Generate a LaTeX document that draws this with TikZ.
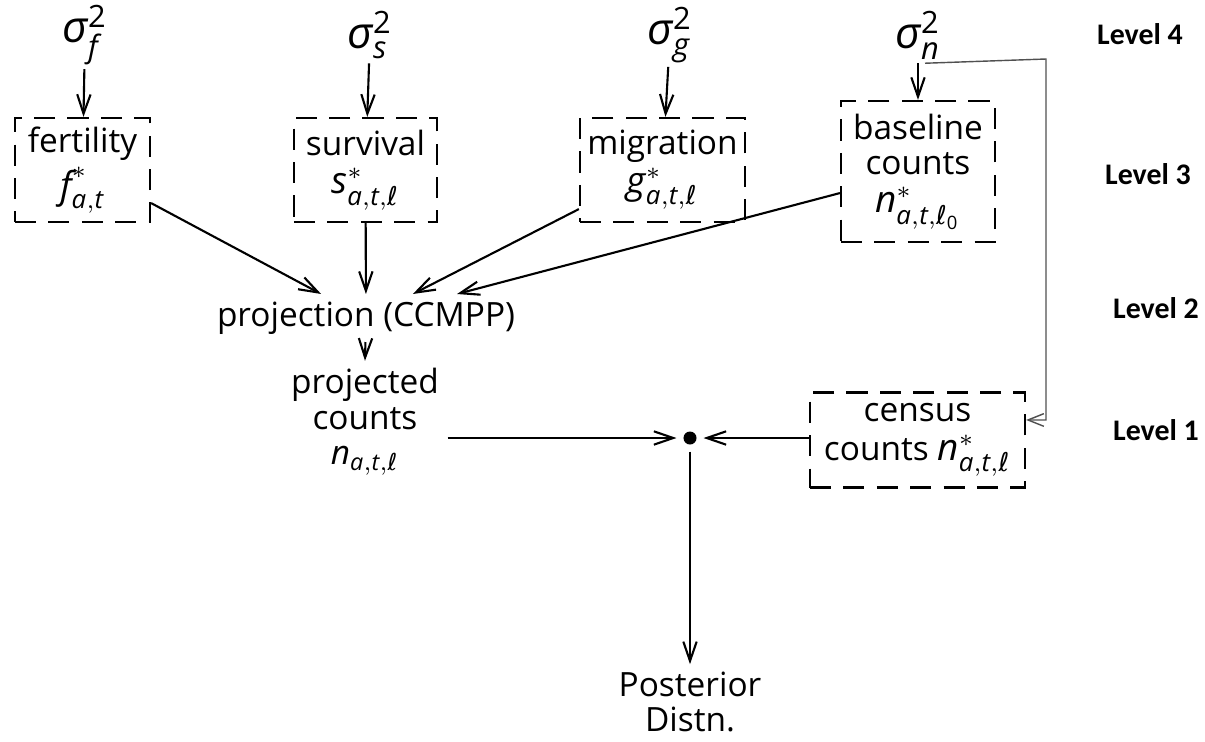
\documentclass[tikz,border=0pt]{standalone}
\usepackage{amsmath}
\usepackage{fontspec}
\setmainfont{Open Sans}
\newfontfamily\levelfont{Carlito}
\newfontfamily\ellfont{DejaVu Sans}
\usetikzlibrary{arrows.meta}

\definecolor{rblack}{HTML}{000000}
\definecolor{rgrey}{HTML}{505050}

\newcommand{\el}{\text{\ellfont\itshape ℓ}}
\newcommand{\vi}[1]{\textit{#1}}
\newcommand{\mathline}[1]{{\fontsize{10.5}{11}\selectfont$#1$}}

\begin{document}
\begin{tikzpicture}[x=0.01cm,y=-0.01cm,
  font=\fontsize{9.5}{10}\selectfont,
  box/.style={draw=rblack,dash pattern=on 6pt off 3.5pt,line width=0.6pt,align=center,inner sep=0pt},
  txt/.style={align=center,inner sep=2pt},
  sig/.style={inner sep=1pt,font=\fontsize{12.5}{13}\selectfont},
  arr/.style={-{Straight Barb[length=5.5pt,width=3.8pt]},line width=0.6pt,rblack},
  thinarr/.style={-{Straight Barb[length=4.5pt,width=3.6pt]},line width=0.4pt,rgrey},
  lvl/.style={font=\levelfont\bfseries\fontsize{8.5}{10}\selectfont}]
  \useasboundingbox (0,0) rectangle (1205,742);

  \node[sig] (sigf) at (85,35) {$\vi{σ}^{\text{2}}_{\vi{f}}$};
  \node[sig] (sigs) at (370,35) {$\vi{σ}^{\text{2}}_{\vi{s}}$};
  \node[sig] (sigg) at (670,35) {$\vi{σ}^{\text{2}}_{\vi{g}}$};
  \node[sig] (sign) at (918,35) {$\vi{σ}^{\text{2}}_{\vi{n}}$};

  \node[box,minimum width=1.35cm,minimum height=1.04cm] (fert) at (82.5,170)
    {fertility\\[1pt]\mathline{\vi{f}^{\ast}_{\vi{a},\vi{t}}}};
  \node[box,minimum width=1.43cm,minimum height=1.04cm] (surv) at (365.5,170)
    {survival\\[1pt]\mathline{\vi{s}^{\ast}_{\vi{a},\vi{t},\el}}};
  \node[box,minimum width=1.65cm,minimum height=1.04cm] (migr) at (662.5,170)
    {migration\\[1pt]\mathline{\vi{g}^{\ast}_{\vi{a},\vi{t},\el}}};
  \node[box,minimum width=1.54cm,minimum height=1.41cm] (base) at (918,171.5)
    {baseline\\counts\\[1pt]\mathline{\vi{n}^{\ast}_{\vi{a},\vi{t},\el_{\text{0}}}}};

  \node[txt] (proj) at (366,318) {projection (CCMPP)};
  \node[txt,inner sep=0pt] (projcnt) at (365,422) {projected\\counts\\$\vi{n}_{\vi{a},\vi{t},\el}$};
  \node[circle,fill=rblack,inner sep=0pt,minimum size=0.13cm,outer sep=2pt] (dot) at (690,438) {};
  \node[box,minimum width=2.15cm,minimum height=0.95cm] (cens) at (917.5,440)
    {census\\[1pt]counts \mathline{\vi{n}^{\ast}_{\vi{a},\vi{t},\el}}};
  \node[txt] (post) at (690,702) {Posterior\\Distn.};

  \node[lvl] (lev4) at (1140,34) {Level 4};
  \node[lvl] (lev3) at (1148,174) {Level 3};
  \node[lvl] (lev2) at (1156,308) {Level 2};
  \node[lvl] (lev1) at (1156,430) {Level 1};

  \coordinate (rail) at (1046,59);

  \draw[arr] (sigf) -- (fert);
  \draw[arr] (sigs) -- (surv);
  \draw[arr] (sigg) -- (migr);
  \draw[arr] (sign) -- (base);

  \draw[arr] ([yshift=0.2cm]fert.south east) -- (proj);
  \draw[arr] (surv) -- (proj);
  \draw[arr] ([yshift=0.14cm]migr.south west) -- (proj);
  \draw[arr] ([yshift=0.5cm]base.south west) -- (proj);

  \draw[arr] (proj) -- ([yshift=2pt]projcnt.north);
  \draw[arr] ([xshift=0.08cm]projcnt.east |- dot) -- (dot);
  \draw[arr] (cens.west |- dot) -- (dot);
  \draw[arr] (dot) -- (post);

  \draw[thinarr] ([xshift=0.07cm]sign.south) -- (rail) |- ([yshift=0.2cm]cens.east);
\end{tikzpicture}
\end{document}
